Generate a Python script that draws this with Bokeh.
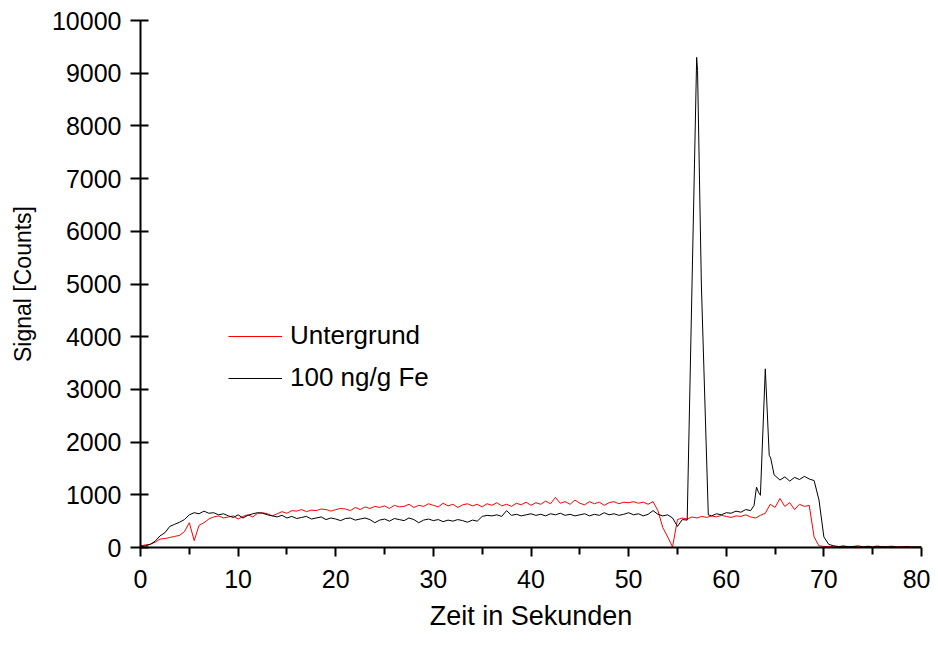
from bokeh.plotting import figure
from bokeh.models import FixedTicker, Legend, LegendItem, Range1d
from bokeh.embed import file_html
from bokeh.resources import INLINE

# ---- data ----
t_grid = [i * 0.5 for i in range(161)]  # time grid 0 .. 80 s

untergrund = [
    30, 50, 60, 100, 160, 170, 190, 210, 230, 300,
    470, 130, 420, 470, 540, 580, 600, 560, 580, 600,
    540, 590, 620, 580, 650, 660, 640, 600, 640, 680,
    650, 700, 690, 720, 680, 710, 700, 730, 720, 690,
    720, 740, 730, 700, 760, 720, 770, 740, 780, 760,
    790, 740, 800, 770, 780, 820, 760, 800, 780, 830,
    800, 770, 840, 790, 820, 760, 810, 830, 790, 820,
    770, 830, 800, 850, 790, 820, 780, 840, 810, 860,
    800, 850, 820, 880, 830, 950, 840, 870, 820, 900,
    840, 810, 870, 830, 860, 800, 850, 870, 830, 860,
    850, 870, 840, 860, 820, 870, 700, 380, 200, 10,
    530, 560, 540, 580, 560, 590, 570, 600, 580, 610,
    590, 570, 600, 590, 620, 580, 560, 610, 650, 820,
    760, 930, 780, 850, 720, 820, 780, 800, 200, 30,
    20, 15, 25, 10, 30, 15, 20, 35, 10, 25,
    15, 30, 10, 20, 25, 10, 15, 20, 10, 15, 10,
]

fe_100 = [
    20, 30, 60, 120, 220, 280, 400, 440, 480, 530,
    620, 660, 640, 690, 650, 660, 620, 640, 600, 570,
    620, 560, 610, 640, 660, 650, 620, 600, 580, 610,
    560, 590, 550, 570, 590, 540, 560, 580, 530, 560,
    540, 510, 550, 560, 520, 540, 560, 530, 470, 520,
    540, 500, 550, 530, 510, 560, 530, 470, 520, 540,
    510, 530, 490, 520, 500, 530, 510, 480, 520, 500,
    590, 610, 600, 620, 590, 700, 610, 630, 600, 620,
    640, 610, 630, 600, 640, 620, 650, 610, 630, 600,
    620, 640, 600, 630, 610, 660, 620, 640, 610, 630,
    660, 620, 640, 600, 630, 700, 630, 600, 620, 560,
    400, 530, 520, None, None, None, None, 600, 640, 620,
    660, 650, 690, 670, 720, 700, None, None, None, None,
    None, 1280, 1340, 1260, 1330, 1290, 1350, 1300, 1270, 900,
    200, 60, 30, 20, 25, 15, 20, 10, 15, 20,
    10, 15, 20, 10, 15, 10, 10, 15, 10, 10, 10,
]

# peak regions of the Fe signal (finer time points)
peak_t = [56.97, 57.06, 57.45, 58.16, 62.85, 63.1, 63.3, 63.5, 64.0, 64.4, 64.55, 64.9]
peak_v = [9300, 9050, 5000, 620, 800, 1145, 1050, 990, 3390, 1750, 1700, 1380]

x_ticks = [0, 10, 20, 30, 40, 50, 60, 70, 80]
x_minor = [5, 15, 25, 35, 45, 55, 65, 75]
y_ticks = [0, 1000, 2000, 3000, 4000, 5000, 6000, 7000, 8000, 9000, 10000]

assert len(untergrund) == len(t_grid) and len(fe_100) == len(t_grid)

pairs = [(t, v) for t, v in zip(t_grid, fe_100) if v is not None] + list(zip(peak_t, peak_v))
pairs.sort()
fe_t = [a for a, b in pairs]
fe_v = [b for a, b in pairs]

FONT = "Liberation Sans"

p = figure(width=930, height=640, output_backend="svg", toolbar_location=None,
           x_range=Range1d(0, 80), y_range=Range1d(0, 10000),
           min_border_left=140, min_border_right=9, min_border_top=20, min_border_bottom=93)
p.outline_line_color = None
p.xgrid.visible = False
p.ygrid.visible = False
p.background_fill_color = "white"
p.border_fill_color = "white"

r_red = p.line(t_grid, untergrund, line_color="#ff0000", line_width=1)
r_blk = p.line(fe_t, fe_v, line_color="#000000", line_width=1)

for ax in (p.xaxis[0], p.yaxis[0]):
    ax.axis_label_text_color = "black"
    ax.major_label_text_color = "black"
    ax.axis_line_color = "black"
    ax.major_tick_line_color = "black"
    ax.axis_label_text_font = FONT
    ax.axis_label_text_font_style = "normal"
    ax.major_label_text_font = FONT
    ax.major_label_text_font_size = "25px"
    ax.axis_line_width = 2
    ax.major_tick_line_width = 2

xa = p.xaxis[0]
xa.ticker = FixedTicker(ticks=x_ticks, minor_ticks=x_minor)
xa.axis_label = "Zeit in Sekunden"
xa.axis_label_text_font_size = "27px"
xa.axis_label_standoff = 10
xa.major_label_standoff = 13
xa.minor_tick_line_color = "black"
xa.minor_tick_line_width = 2
xa.major_tick_in = 0
xa.major_tick_out = 9
xa.minor_tick_in = 0
xa.minor_tick_out = 7

ya = p.yaxis[0]
ya.ticker = FixedTicker(ticks=y_ticks)
ya.axis_label = "Signal [Counts]"
ya.axis_label_text_font_size = "23px"
ya.axis_label_standoff = 13
ya.major_label_standoff = 9
ya.major_tick_in = 8
ya.major_tick_out = 10
ya.minor_tick_line_color = None

legend = Legend(items=[LegendItem(label="Untergrund", renderers=[r_red]),
                       LegendItem(label="100 ng/g Fe", renderers=[r_blk])],
                location=(88, 154), orientation="vertical",
                padding=0, margin=0, spacing=11, glyph_width=54, glyph_height=20,
                label_standoff=8, label_text_font=FONT, label_text_font_size="26px",
                label_text_color="black",
                border_line_color=None, background_fill_alpha=0)
p.add_layout(legend, "center")

open("out.html", "w").write(file_html(p, INLINE))
